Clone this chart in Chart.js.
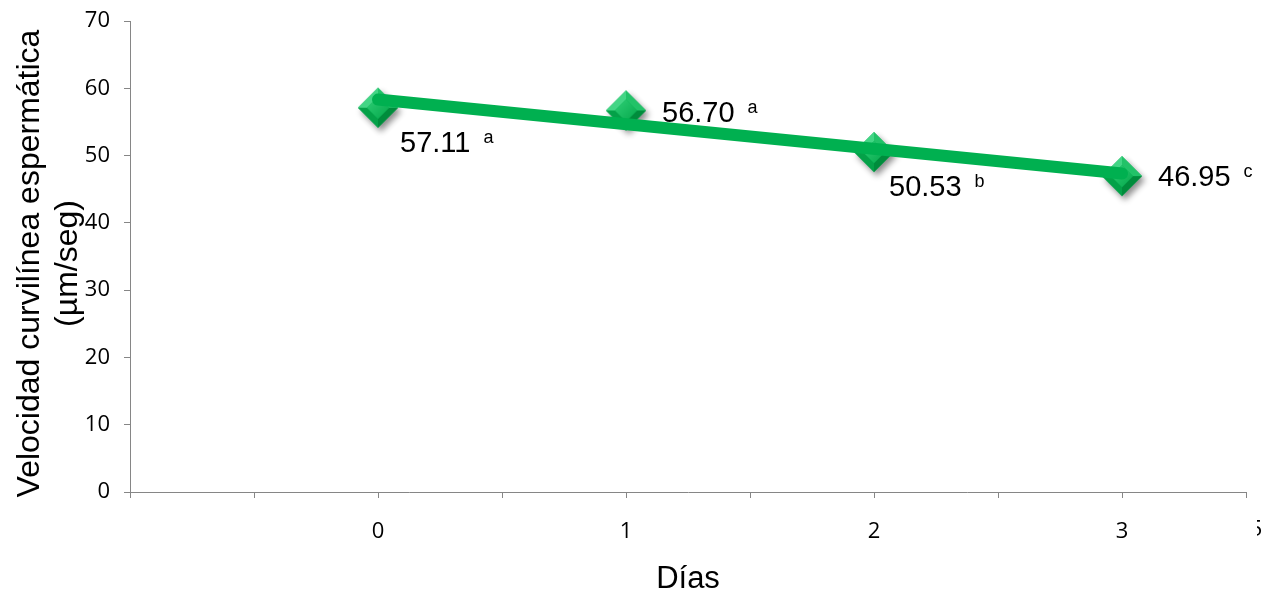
<!DOCTYPE html>
<html>
<head>
<meta charset="utf-8">
<script src="https://cdn.jsdelivr.net/npm/chart.js@4/dist/chart.umd.min.js"></script>
<style>
  html, body { margin: 0; padding: 0; background: #ffffff; }
  #c { display: block; }
</style>
</head>
<body>
<canvas id="c" width="1268" height="595"></canvas>
<script>
// Días de conservación y velocidad curvilínea medida
const dias = [0, 1, 2, 3];
const velocidad = [57.11, 56.70, 50.53, 46.95];
const letras = ['a', 'a', 'b', 'c'];
const diasEtiquetados = ['0', '1', '2', '3'];

const tituloY = ['Velocidad curvilínea espermática', '(µm/seg)'];
const tituloX = 'Días';

const VERDE = '#00B050';
const GRIS_EJE = '#868686';
const FUENTE_EJES = '"Open Sans", "Liberation Sans", sans-serif';
const FUENTE_TEXTO = '"Liberation Sans", Arial, sans-serif';

// Recta de tendencia lineal (mínimos cuadrados) sobre los valores medidos
function tendencia(xs, ys) {
  const n = xs.length;
  const mx = xs.reduce((a, b) => a + b, 0) / n;
  const my = ys.reduce((a, b) => a + b, 0) / n;
  let sxy = 0, sxx = 0;
  for (let i = 0; i < n; i++) {
    sxy += (xs[i] - mx) * (ys[i] - my);
    sxx += (xs[i] - mx) * (xs[i] - mx);
  }
  const m = sxy / sxx;
  const b = my - m * mx;
  return [xs[0], xs[n - 1]].map(x => ({ x, y: m * x + b }));
}

// Marcador en rombo biselado con sombra
function crearRombo(r) {
  const size = Math.ceil(r * 2 + 20);
  const cv = document.createElement('canvas');
  cv.width = size; cv.height = size;
  const g = cv.getContext('2d');
  const c = size / 2;
  const pts = [[c - r, c], [c, c - r], [c + r, c], [c, c + r]];
  // sombra
  g.save();
  g.shadowColor = 'rgba(0,0,0,0.45)';
  g.shadowBlur = 6;
  g.shadowOffsetX = 3;
  g.shadowOffsetY = 4;
  g.beginPath();
  pts.forEach((p, i) => i ? g.lineTo(p[0], p[1]) : g.moveTo(p[0], p[1]));
  g.closePath();
  g.fillStyle = VERDE;
  g.fill();
  g.restore();
  // caras del bisel
  const ri = r * 0.55;
  const inner = [[c - ri, c], [c, c - ri], [c + ri, c], [c, c + ri]];
  const colores = ['#43d585', '#22c268', '#008c3c', '#04a148'];
  for (let i = 0; i < 4; i++) {
    const a = pts[i], b = pts[(i + 1) % 4], bi = inner[(i + 1) % 4], ai = inner[i];
    g.beginPath();
    g.moveTo(a[0], a[1]); g.lineTo(b[0], b[1]); g.lineTo(bi[0], bi[1]); g.lineTo(ai[0], ai[1]);
    g.closePath();
    g.fillStyle = colores[i];
    g.fill();
  }
  const grad = g.createLinearGradient(c - ri, c - ri, c + ri, c + ri);
  grad.addColorStop(0, '#2fcf76');
  grad.addColorStop(1, '#05a84b');
  g.beginPath();
  inner.forEach((p, i) => i ? g.lineTo(p[0], p[1]) : g.moveTo(p[0], p[1]));
  g.closePath();
  g.fillStyle = grad;
  g.fill();
  return cv;
}

// Posición de cada etiqueta de valor respecto de su marcador
const desplazamientos = [[22, 44], [36, 12], [15, 44], [36, 10]];

const etiquetasValor = {
  id: 'etiquetasValor',
  afterDatasetsDraw(chart) {
    const meta = chart.getDatasetMeta(1);
    const ctx = chart.ctx;
    ctx.save();
    ctx.fillStyle = '#000000';
    ctx.textAlign = 'left';
    ctx.textBaseline = 'alphabetic';
    meta.data.forEach((el, i) => {
      const [dx, dy] = desplazamientos[i];
      const x = el.x + dx, y = el.y + dy;
      const txt = velocidad[i].toFixed(2);
      ctx.font = '29px ' + FUENTE_TEXTO;
      ctx.fillText(txt, x, y);
      const w = ctx.measureText(txt).width;
      ctx.font = '18px ' + FUENTE_TEXTO;
      ctx.fillText(letras[i], x + w + 13, y - 9);
    });
    ctx.restore();
  }
};

const titulosEjes = {
  id: 'titulosEjes',
  afterDraw(chart) {
    const ctx = chart.ctx;
    const area = chart.chartArea;
    ctx.save();
    ctx.fillStyle = '#000000';
    ctx.font = '32px ' + FUENTE_TEXTO;
    ctx.textAlign = 'center';
    ctx.textBaseline = 'middle';
    // título vertical en dos líneas
    ctx.save();
    ctx.translate(0, (area.top + area.bottom) / 2 + 7);
    ctx.rotate(-Math.PI / 2);
    ctx.fillText(tituloY[0], 0, 30);
    ctx.fillText(tituloY[1], 0, 68);
    ctx.restore();
    // título horizontal
    ctx.font = '31px ' + FUENTE_TEXTO;
    ctx.textBaseline = 'alphabetic';
    ctx.fillText(tituloX, (area.left + area.right) / 2, 588);
    // rótulo recortado en el borde derecho del eje
    ctx.save();
    ctx.beginPath();
    ctx.rect(1257, 500, 11, 60);
    ctx.clip();
    ctx.font = '22px ' + FUENTE_EJES;
    ctx.textBaseline = 'alphabetic';
    ctx.fillStyle = '#000000';
    ctx.fillText('5', 1256, 536);
    ctx.restore();
    ctx.restore();
  }
};

new Chart(document.getElementById('c'), {
  type: 'scatter',
  data: {
    datasets: [
      {
        label: 'Tendencia',
        type: 'line',
        data: tendencia(dias, velocidad),
        borderColor: VERDE,
        borderWidth: 12,
        borderCapStyle: 'round',
        pointRadius: 0,
        pointHoverRadius: 0,
        fill: false,
        order: 0
      },
      {
        label: 'Velocidad',
        data: dias.map((d, i) => ({ x: d, y: velocidad[i] })),
        pointStyle: crearRombo(20),
        pointRadius: 20,
        showLine: false,
        order: 1
      }
    ]
  },
  options: {
    responsive: false,
    animation: false,
    devicePixelRatio: 1,
    layout: { padding: { top: 21, right: 22, left: 0, bottom: 0 } },
    plugins: {
      legend: { display: false },
      tooltip: { enabled: false }
    },
    scales: {
      x: {
        type: 'linear',
        min: -1,
        max: 3.5,
        afterFit(s) { s.height = 103; s.paddingLeft = 0; s.paddingRight = 0; },
        ticks: {
          stepSize: 0.5,
          autoSkip: false,
          maxRotation: 0,
          padding: 21,
          color: '#000000',
          font: { family: FUENTE_EJES, size: 22 },
          callback(v) {
            const i = dias.indexOf(v);
            return i >= 0 ? diasEtiquetados[i] : '';
          }
        },
        grid: { drawOnChartArea: false, tickLength: 6, color: GRIS_EJE },
        border: { color: GRIS_EJE, width: 1 }
      },
      y: {
        min: 0,
        max: 70,
        afterFit(s) { s.width = 130; s.paddingTop = 0; s.paddingBottom = 0; },
        ticks: {
          stepSize: 10,
          padding: 14,
          color: '#000000',
          font: { family: FUENTE_EJES, size: 22 }
        },
        grid: { drawOnChartArea: false, tickLength: 6, color: GRIS_EJE },
        border: { color: GRIS_EJE, width: 1 }
      }
    }
  },
  plugins: [etiquetasValor, titulosEjes]
});
</script>
</body>
</html>
